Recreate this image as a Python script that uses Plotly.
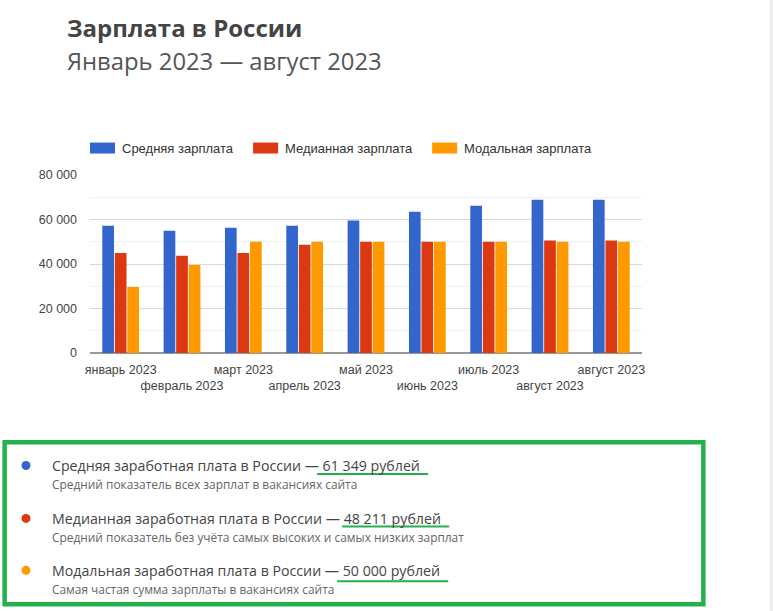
import plotly.graph_objects as go

# ---------------- data ----------------
categories = ["январь 2023", "февраль 2023", "март 2023", "апрель 2023", "май 2023",
              "июнь 2023", "июль 2023", "август 2023", "август 2023"]
series_names = ["Средняя зарплата", "Медианная зарплата", "Модальная зарплата"]
avg_salary = [57200, 55000, 56300, 57200, 59500, 63500, 66200, 68900, 68900]
median_salary = [45000, 43700, 45000, 48600, 50000, 50000, 50000, 50600, 50600]
modal_salary = [29700, 39600, 50000, 50000, 50000, 50000, 50000, 50000, 50000]
series_colors = ["#3366cc", "#dc3912", "#ff9900"]
y_ticks = [0, 20000, 40000, 60000, 80000]

title_text = "Зарплата в России"
subtitle_text = "Январь 2023 — август 2023"
summary_titles = ["Средняя заработная плата в России", "Медианная заработная плата в России",
                  "Модальная заработная плата в России"]
summary_values = ["61 349 рублей", "48 211 рублей", "50 000 рублей"]
summary_notes = ["Средний показатель всех зарплат в вакансиях сайта",
                 "Средний показатель без учёта самых высоких и самых низких зарплат",
                 "Самая частая сумма зарплаты в вакансиях сайта"]

# ---------------- layout geometry ----------------
W, H = 773, 611
ML, MR, MT, MB = 90, 131.3, 175, 257.7
PW = W - ML - MR
PH = H - MT - MB


def px(x):
    return (x - ML) / PW


def py(y):
    return (H - MB - y) / PH


x_pos = list(range(len(categories)))
tick_text = [c if i % 2 == 0 else "<br>" + c for i, c in enumerate(categories)]

fig = go.Figure()
for name, vals, col in zip(series_names, [avg_salary, median_salary, modal_salary], series_colors):
    fig.add_trace(go.Bar(x=x_pos, y=vals, name=name, marker=dict(color=col, line=dict(width=0)),
                         showlegend=False))

shapes = []
annotations = []

# title / subtitle
annotations.append(dict(text="<b>" + title_text + "</b>", xref="paper", yref="paper",
                        x=px(65), y=py(27.5), xanchor="left", yanchor="middle", showarrow=False,
                        font=dict(family="Open Sans", size=24, color="#444444")))
annotations.append(dict(text=subtitle_text, xref="paper", yref="paper",
                        x=px(65), y=py(61), xanchor="left", yanchor="middle", showarrow=False,
                        font=dict(family="Open Sans", size=23.8, color="#555555")))

# custom legend
legend_x = [90, 253, 432]
for lx, name, col in zip(legend_x, series_names, series_colors):
    shapes.append(dict(type="rect", xref="paper", yref="paper", x0=px(lx), x1=px(lx + 25),
                       y0=py(153.5), y1=py(142.5), fillcolor=col, line=dict(width=0)))
    annotations.append(dict(text=name, xref="paper", yref="paper", x=px(lx + 30), y=py(148),
                            xanchor="left", yanchor="middle", showarrow=False,
                            font=dict(family="Arial, Liberation Sans", size=13, color="#333333")))

# summary box
shapes.append(dict(type="rect", xref="paper", yref="paper", x0=px(4.7), x1=px(703),
                   y0=py(605), y1=py(442.7), line=dict(color="#22b14c", width=4.5),
                   fillcolor="rgba(0,0,0,0)"))
line_y = [466, 519, 571]
underline = [(317, 428, 474.5), (342, 449, 527), (337, 448, 582)]
for i in range(3):
    cy = line_y[i]
    shapes.append(dict(type="circle", xref="paper", yref="paper", x0=px(21.5), x1=px(30.5),
                       y0=py(cy + 4.5), y1=py(cy - 4.5), fillcolor=series_colors[i],
                       line=dict(width=0)))
    annotations.append(dict(text=summary_titles[i] + " — " + summary_values[i], xref="paper",
                            yref="paper", x=px(50), y=py(cy), xanchor="left", yanchor="middle",
                            showarrow=False,
                            font=dict(family="Open Sans", size=14.2, color="#444444")))
    annotations.append(dict(text=summary_notes[i], xref="paper", yref="paper", x=px(50),
                            y=py(cy + 18.5), xanchor="left", yanchor="middle", showarrow=False,
                            font=dict(family="Open Sans", size=11.9, color="#666666")))
    ux0, ux1, uy = underline[i]
    shapes.append(dict(type="line", xref="paper", yref="paper", x0=px(ux0), x1=px(ux1),
                       y0=py(uy), y1=py(uy), line=dict(color="#22b14c", width=2)))

# right edge strip
shapes.append(dict(type="rect", xref="paper", yref="paper", x0=px(770.5), x1=px(774),
                   y0=py(612), y1=py(-1), fillcolor="#f4f4f4", line=dict(color="#e2e2e2", width=1)))

fig.update_layout(
    width=W, height=H,
    margin=dict(l=ML, r=MR, t=MT, b=MB),
    paper_bgcolor="white", plot_bgcolor="white",
    barmode="group", bargap=0.387, bargroupgap=0.066,
    separators=", ",
    shapes=shapes, annotations=annotations,
    font=dict(family="Arial, Liberation Sans", size=12.5, color="#444444"),
    xaxis=dict(tickmode="array", tickvals=x_pos, ticktext=tick_text, range=[-0.5, len(categories) - 0.5],
               showgrid=False, zeroline=False, showline=False, ticks="", ticklabelstandoff=7,
               tickangle=0, tickfont=dict(size=12.5, color="#444444")),
    yaxis=dict(range=[0, 80000], tickmode="array", tickvals=y_ticks, tickformat=",.0f",
               showgrid=True, gridcolor="#d9d9d9", gridwidth=1,
               minor=dict(dtick=10000, showgrid=True, gridcolor="#f0f0f0", gridwidth=1),
               zeroline=True, zerolinecolor="#999999", zerolinewidth=1.5,
               ticks="", ticklabelstandoff=12, tickfont=dict(size=12.5, color="#444444")),
)

fig.write_html("out.html")
